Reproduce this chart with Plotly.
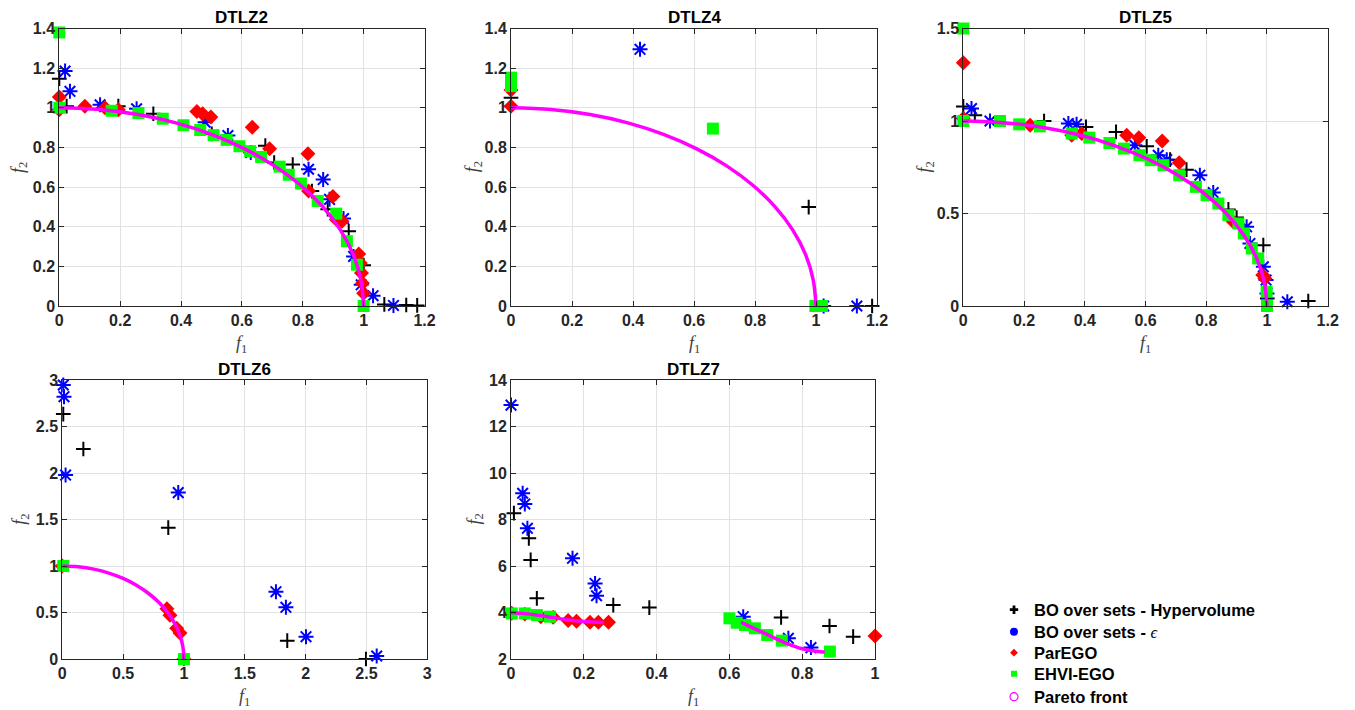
import plotly.graph_objects as go

W, H = 1355, 710
OFF = 8  # the page body adds an 8 px margin on the left and top

# ---------------- data ----------------
# Quarter-circle Pareto front (DTLZ2, DTLZ4, DTLZ5, DTLZ6)
front_circle_f1 = [0.0, 0.131, 0.259, 0.383, 0.5, 0.609, 0.707, 0.793, 0.866, 0.924, 0.966, 0.991, 1.0]
front_circle_f2 = [1.0, 0.991, 0.966, 0.924, 0.866, 0.793, 0.707, 0.609, 0.5, 0.383, 0.259, 0.131, 0.0]

# DTLZ7 disconnected Pareto front (two pieces)
front7_left_f1 = [0.0, 0.05, 0.1, 0.15, 0.2, 0.255]
front7_left_f2 = [4.0, 3.93, 3.82, 3.70, 3.61, 3.57]
front7_right_f1 = [0.632, 0.65, 0.7, 0.75, 0.8, 0.85, 0.862]
front7_right_f2 = [3.58, 3.45, 3.08, 2.72, 2.44, 2.31, 2.305]

# DTLZ2
dtlz2_hv_f1 = [0.0, 0.024, 0.194, 0.309, 0.501, 0.677, 0.706, 0.767, 0.830, 0.882, 0.951, 1.0, 1.068, 1.140, 1.176]
dtlz2_hv_f2 = [1.147, 1.008, 1.008, 0.970, 0.868, 0.809, 0.724, 0.714, 0.580, 0.488, 0.377, 0.206, 0.008, 0.005, 0.003]
dtlz2_eps_f1 = [0.019, 0.035, 0.134, 0.254, 0.479, 0.554, 0.629, 0.819, 0.867, 0.888, 0.934, 0.967, 0.992, 1.031, 1.098]
dtlz2_eps_f2 = [1.185, 1.083, 1.015, 0.995, 0.927, 0.860, 0.775, 0.690, 0.638, 0.538, 0.441, 0.250, 0.107, 0.052, 0.003]
dtlz2_parego_f1 = [0.0, 0.0, 0.084, 0.150, 0.194, 0.452, 0.471, 0.498, 0.634, 0.691, 0.817, 0.819, 0.899, 0.910, 0.929,
                   0.984, 0.989, 0.993, 0.996, 1.0, 1.0]
dtlz2_parego_f2 = [1.054, 0.99, 1.008, 1.0, 0.99, 0.981, 0.970, 0.953, 0.902, 0.793, 0.768, 0.580, 0.553, 0.437, 0.428,
                   0.262, 0.217, 0.166, 0.115, 0.064, -0.015]
dtlz2_ehvi_f1 = [0.0, 0.0, 0.172, 0.26, 0.34, 0.408, 0.463, 0.507, 0.55, 0.592, 0.627, 0.663, 0.724, 0.754, 0.794,
                 0.849, 0.91, 0.945, 0.978, 1.0]
dtlz2_ehvi_f2 = [1.38, 1.0, 0.985, 0.973, 0.945, 0.912, 0.888, 0.862, 0.838, 0.806, 0.781, 0.752, 0.703, 0.662, 0.618,
                 0.53, 0.466, 0.327, 0.208, 0.0]

# DTLZ4
dtlz4_hv_f1 = [0.0, 0.976, 1.184]
dtlz4_hv_f2 = [1.05, 0.499, 0.0]
dtlz4_eps_f1 = [0.423, 1.025, 1.134]
dtlz4_eps_f2 = [1.295, 0.0, 0.0]
dtlz4_parego_f1 = [0.0, 0.0, 1.0]
dtlz4_parego_f2 = [1.09, 1.008, -0.02]
dtlz4_ehvi_f1 = [0.0, 0.0, 0.662, 0.998, 1.02]
dtlz4_ehvi_f2 = [1.152, 1.11, 0.895, 0.0, 0.0]

# DTLZ5
dtlz5_hv_f1 = [0.0, 0.038, 0.266, 0.404, 0.503, 0.604, 0.681, 0.735, 0.873, 0.9, 0.988, 1.001, 1.136]
dtlz5_hv_f2 = [1.079, 1.031, 1.0, 0.968, 0.941, 0.863, 0.791, 0.737, 0.522, 0.478, 0.329, 0.041, 0.027]
dtlz5_eps_f1 = [0.027, 0.088, 0.346, 0.373, 0.565, 0.642, 0.67, 0.779, 0.823, 0.933, 0.944, 0.988, 0.997, 1.0, 1.067]
dtlz5_eps_f2 = [1.067, 1.0, 0.986, 0.982, 0.869, 0.815, 0.791, 0.707, 0.613, 0.428, 0.338, 0.212, 0.14, 0.068, 0.023]
dtlz5_parego_f1 = [0.0, 0.0, 0.22, 0.357, 0.39, 0.538, 0.578, 0.655, 0.711, 0.889, 0.986, 0.993, 1.004]
dtlz5_parego_f2 = [1.315, 1.013, 0.977, 0.923, 0.932, 0.923, 0.91, 0.892, 0.775, 0.455, 0.167, 0.149, -0.01]
dtlz5_ehvi_f1 = [0.0, 0.0, 0.121, 0.184, 0.252, 0.357, 0.415, 0.481, 0.529, 0.58, 0.617, 0.659, 0.711, 0.766, 0.801,
                 0.84, 0.873, 0.906, 0.924, 0.95, 0.971, 0.999, 1.0]
dtlz5_ehvi_f2 = [1.5, 1.0, 1.0, 0.982, 0.971, 0.932, 0.91, 0.881, 0.851, 0.815, 0.788, 0.761, 0.707, 0.644, 0.599,
                 0.554, 0.491, 0.446, 0.392, 0.311, 0.257, 0.077, 0.0]

# DTLZ6
dtlz6_hv_f1 = [0.008, 0.173, 0.871, 1.849, 2.496]
dtlz6_hv_f2 = [2.634, 2.258, 1.412, 0.197, 0.0]
dtlz6_eps_f1 = [0.008, 0.014, 0.027, 0.953, 1.756, 1.838, 2.003, 2.584]
dtlz6_eps_f2 = [2.946, 2.821, 1.978, 1.789, 0.724, 0.556, 0.24, 0.032]
dtlz6_parego_f1 = [0.0, 0.86, 0.885, 0.94, 0.967, 1.0]
dtlz6_parego_f2 = [1.0, 0.54, 0.47, 0.33, 0.28, 0.0]
dtlz6_ehvi_f1 = [0.008, 1.0]
dtlz6_ehvi_f2 = [1.0, 0.0]

# DTLZ7
dtlz7_hv_f1 = [0.008, 0.049, 0.054, 0.071, 0.281, 0.38, 0.742, 0.875, 0.94]
dtlz7_hv_f2 = [8.27, 7.19, 6.26, 4.61, 4.32, 4.21, 3.79, 3.42, 2.96]
dtlz7_eps_f1 = [0.0, 0.032, 0.038, 0.045, 0.169, 0.231, 0.235, 0.638, 0.762, 0.824]
dtlz7_eps_f2 = [12.92, 9.13, 8.67, 7.62, 6.33, 5.25, 4.72, 3.82, 2.89, 2.49]
dtlz7_parego_f1 = [0.002, 0.038, 0.082, 0.116, 0.157, 0.18, 0.217, 0.24, 0.268, 1.0]
dtlz7_parego_f2 = [3.97, 3.93, 3.82, 3.80, 3.66, 3.62, 3.58, 3.58, 3.58, 2.99]
dtlz7_ehvi_f1 = [0.002, 0.038, 0.071, 0.107, 0.6, 0.62, 0.643, 0.67, 0.704, 0.744, 0.876]
dtlz7_ehvi_f2 = [3.96, 3.96, 3.89, 3.82, 3.75, 3.56, 3.46, 3.32, 3.03, 2.79, 2.32]

legend_names = ["BO over sets - Hypervolume",
                "BO over sets - <span style='font-family:Liberation Serif;font-weight:normal;font-style:italic'>\u03f5</span>",
                "ParEGO", "EHVI-EGO", "Pareto front"]

# ---------------- layout geometry (screen pixels) ----------------
panels = [
    dict(title="DTLZ2", xd=(59.3, 424.5), yd=(28.5, 306), xr=[0, 1.2], yr=[0, 1.4], dx=0.2, dy=0.2, ylab=40.5,
         hv=(dtlz2_hv_f1, dtlz2_hv_f2), eps=(dtlz2_eps_f1, dtlz2_eps_f2), par=(dtlz2_parego_f1, dtlz2_parego_f2),
         ehvi=(dtlz2_ehvi_f1, dtlz2_ehvi_f2), front=(front_circle_f1, front_circle_f2)),
    dict(title="DTLZ4", xd=(511, 877), yd=(28.5, 306), xr=[0, 1.2], yr=[0, 1.4], dx=0.2, dy=0.2, ylab=38,
         hv=(dtlz4_hv_f1, dtlz4_hv_f2), eps=(dtlz4_eps_f1, dtlz4_eps_f2), par=(dtlz4_parego_f1, dtlz4_parego_f2),
         ehvi=(dtlz4_ehvi_f1, dtlz4_ehvi_f2), front=(front_circle_f1, front_circle_f2)),
    dict(title="DTLZ5", xd=(963.3, 1327.7), yd=(28.5, 306), xr=[0, 1.2], yr=[0, 1.5], dx=0.2, dy=0.5, ylab=38,
         hv=(dtlz5_hv_f1, dtlz5_hv_f2), eps=(dtlz5_eps_f1, dtlz5_eps_f2), par=(dtlz5_parego_f1, dtlz5_parego_f2),
         ehvi=(dtlz5_ehvi_f1, dtlz5_ehvi_f2), front=(front_circle_f1, front_circle_f2)),
    dict(title="DTLZ6", xd=(62.3, 427.3), yd=(380, 659), xr=[0, 3], yr=[0, 3], dx=0.5, dy=0.5, ylab=42,
         hv=(dtlz6_hv_f1, dtlz6_hv_f2), eps=(dtlz6_eps_f1, dtlz6_eps_f2), par=(dtlz6_parego_f1, dtlz6_parego_f2),
         ehvi=(dtlz6_ehvi_f1, dtlz6_ehvi_f2), front=(front_circle_f1, front_circle_f2)),
    dict(title="DTLZ7", xd=(511, 875), yd=(380, 659), xr=[0, 1], yr=[2, 14], dx=0.2, dy=2, ylab=36,
         hv=(dtlz7_hv_f1, dtlz7_hv_f2), eps=(dtlz7_eps_f1, dtlz7_eps_f2), par=(dtlz7_parego_f1, dtlz7_parego_f2),
         ehvi=(dtlz7_ehvi_f1, dtlz7_ehvi_f2),
         front=(front7_left_f1 + [None] + front7_right_f1, front7_left_f2 + [None] + front7_right_f2)),
]


def px(x):
    return (x - OFF) / W


def py(y):
    return 1 - (y - OFF) / H


TXT = "#262626"
FONT = "Liberation Sans"

fig = go.Figure()
annotations = []
layout_axes = {}

for i, p in enumerate(panels):
    k = i + 1
    xa = "x" if k == 1 else f"x{k}"
    ya = "y" if k == 1 else f"y{k}"
    common = dict(showline=True, linecolor=TXT, linewidth=1, mirror="ticks", ticks="inside", ticklen=5,
                  tickcolor=TXT, tickwidth=1, showgrid=True, gridcolor="#e2e2e2", gridwidth=1, zeroline=False,
                  tickfont=dict(family=FONT, size=16, color=TXT, weight="bold"), fixedrange=True,
                  automargin=False)
    layout_axes["xaxis" if k == 1 else f"xaxis{k}"] = dict(
        common, domain=[px(p["xd"][0]), px(p["xd"][1])], range=p["xr"], dtick=p["dx"], tick0=0, anchor=ya)
    layout_axes["yaxis" if k == 1 else f"yaxis{k}"] = dict(
        common, domain=[py(p["yd"][1]), py(p["yd"][0])], range=p["yr"], dtick=p["dy"], tick0=0, anchor=xa)

    mk = dict(xaxis=xa, yaxis=ya, mode="markers", showlegend=False, cliponaxis=False, hoverinfo="skip")
    fig.add_trace(go.Scatter(x=p["hv"][0], y=p["hv"][1],
                             marker=dict(symbol="cross-thin-open", size=10.5, color="black",
                                         line=dict(width=2, color="black")), **mk))
    fig.add_trace(go.Scatter(x=p["eps"][0], y=p["eps"][1],
                             marker=dict(symbol="asterisk-open", size=12.5, color="#0000ff",
                                         line=dict(width=2, color="#0000ff")), **mk))
    fig.add_trace(go.Scatter(x=p["par"][0], y=p["par"][1],
                             marker=dict(symbol="diamond", size=11.5, color="#ff0000", line=dict(width=0)), **mk))
    fig.add_trace(go.Scatter(x=p["ehvi"][0], y=p["ehvi"][1],
                             marker=dict(symbol="square", size=12, color="#00ff00", line=dict(width=0)), **mk))
    fig.add_trace(go.Scatter(x=p["front"][0], y=p["front"][1], xaxis=xa, yaxis=ya, mode="lines",
                             line=dict(color="#ff00ff", width=3.5, shape="spline"), showlegend=False,
                             hoverinfo="skip", connectgaps=False))

    cx = (p["xd"][0] + p["xd"][1]) / 2
    cy = (p["yd"][0] + p["yd"][1]) / 2
    annotations.append(dict(text="<b>" + p["title"] + "</b>", x=px(cx), y=py(p["yd"][0] - 11),
                            xref="paper", yref="paper", xanchor="center", yanchor="middle", showarrow=False,
                            font=dict(family=FONT, size=17, color="black")))
    annotations.append(dict(text="<i>f</i><sub>1</sub>", x=px(cx), y=py(p["yd"][1] + 38),
                            xref="paper", yref="paper", xanchor="center", yanchor="middle", showarrow=False,
                            font=dict(family="Liberation Serif", size=18, color="#404040")))
    annotations.append(dict(text="<i>f</i><sub>2</sub>", x=px(p["xd"][0] - p["ylab"]), y=py(cy),
                            xref="paper", yref="paper", xanchor="center", yanchor="middle", showarrow=False,
                            textangle=-90, font=dict(family="Liberation Serif", size=18, color="#404040")))

# legend entries (small symbols as in the original legend), one legend box per entry for exact spacing
leg_marks = [dict(symbol="cross", size=7, color="black"),
             dict(symbol="circle", size=8, color="#0000ff"),
             dict(symbol="diamond", size=6, color="#ff0000"),
             dict(symbol="square", size=6, color="#00ff00"),
             dict(symbol="circle-open", size=8, color="#ff00ff", line=dict(width=1.2, color="#ff00ff"))]
leg_rows = [610, 632, 653, 674, 697]
legend_layouts = {}
for j, (name, m, row) in enumerate(zip(legend_names, leg_marks, leg_rows)):
    lid = "legend" if j == 0 else f"legend{j + 1}"
    fig.add_trace(go.Scatter(x=[None], y=[None], mode="markers", name=name, marker=m, showlegend=True,
                             legend=lid))
    legend_layouts[lid] = dict(x=px(994), y=py(row), xanchor="left", yanchor="middle",
                               bgcolor="rgba(0,0,0,0)", borderwidth=0,
                               font=dict(family=FONT, size=16.5, color="black", weight="bold"))

fig.update_layout(
    template="none",
    width=W, height=H, margin=dict(l=0, r=0, t=0, b=0, autoexpand=False),
    paper_bgcolor="white", plot_bgcolor="white",
    annotations=annotations,
    **legend_layouts,
    **layout_axes,
)

fig.write_html("out.html")
